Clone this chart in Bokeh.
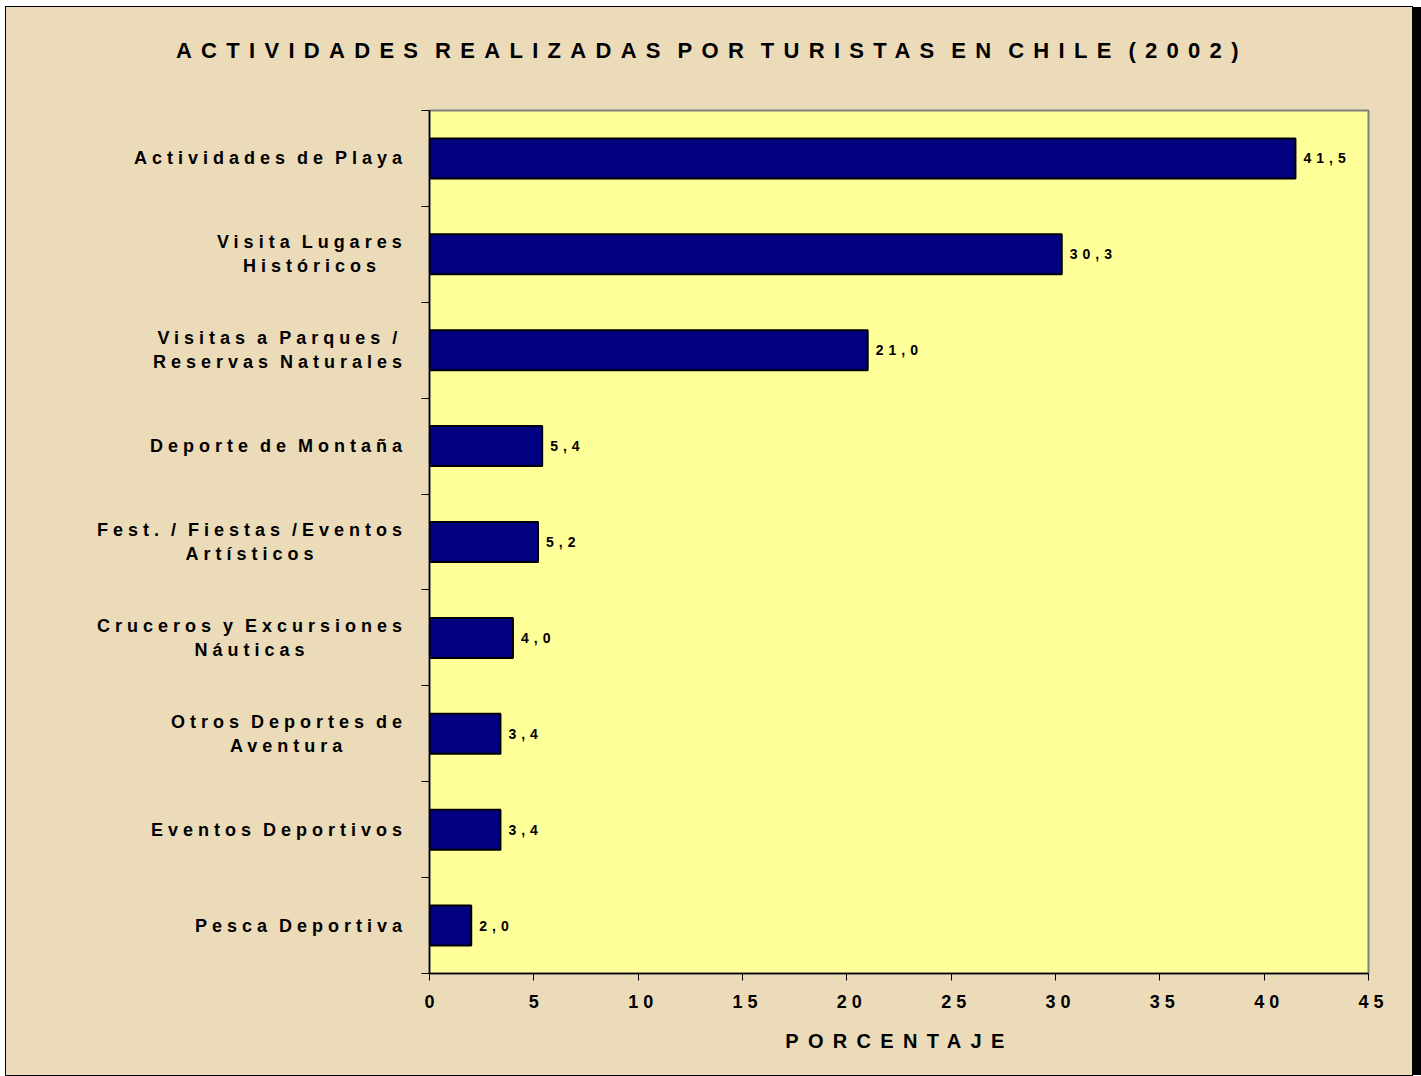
from bokeh.plotting import figure
from bokeh.models import (Range1d, FixedTicker, LabelSet, Label, ColumnDataSource,
                          InlineStyleSheet, CustomJSTickFormatter, LinearAxis)
from bokeh.layouts import column, row
from bokeh.core.properties import value
from bokeh.embed import file_html
from bokeh.resources import INLINE

# ---------------- data ----------------
title_text = "ACTIVIDADES REALIZADAS POR TURISTAS EN CHILE (2002)"
x_axis_title = "PORCENTAJE"
categories = [
    "Actividades de Playa",
    "Visita Lugares\nHistóricos",
    "Visitas a Parques /\nReservas Naturales",
    "Deporte de Montaña",
    "Fest. / Fiestas /Eventos\nArtísticos",
    "Cruceros y Excursiones\nNáuticas",
    "Otros Deportes de\nAventura",
    "Eventos Deportivos",
    "Pesca Deportiva",
]
values = [41.5, 30.3, 21.0, 5.4, 5.2, 4.0, 3.4, 3.4, 2.0]
value_labels = ["41,5", "30,3", "21,0", "5,4", "5,2", "4,0", "3,4", "3,4", "2,0"]
x_ticks = [0, 5, 10, 15, 20, 25, 30, 35, 40, 45]

# ---------------- style ----------------
FONT = "Liberation Sans"
PARCH = "#EBDBB9"
PLOT_BG = "#FFFF99"
BAR = "#000080"

LS_MAIN, WS_MAIN = 5.0, -3.0      # letter / word spacing inside the chart
LS_HEAD, WS_HEAD = 9.3, -7.7      # letter / word spacing of title and axis title

FS_CAT, FS_TICK, FS_VAL, FS_AXT, FS_TITLE = 18, 18, 14, 20, 22

# Arial/Liberation Sans Bold advance widths (1/1000 em)
ADV = {" ": 278, "(": 333, ")": 333, ",": 278, ".": 278, "/": 278,
       "A": 722, "B": 722, "C": 722, "D": 722, "E": 667, "F": 611, "G": 778, "H": 722,
       "I": 278, "J": 556, "K": 722, "L": 611, "M": 833, "N": 722, "O": 778, "P": 667,
       "Q": 778, "R": 722, "S": 667, "T": 611, "U": 722, "V": 667, "W": 944, "X": 667,
       "Y": 667, "Z": 611,
       "a": 556, "b": 611, "c": 556, "d": 611, "e": 556, "f": 333, "g": 611, "h": 611,
       "i": 278, "j": 278, "k": 556, "l": 278, "m": 889, "n": 611, "o": 611, "p": 611,
       "q": 611, "r": 389, "s": 556, "t": 333, "u": 611, "v": 556, "w": 778, "x": 556,
       "y": 556, "z": 500, "á": 556, "é": 556, "í": 278, "ó": 611, "ú": 611, "ñ": 611}


def text_w(s, fs, ls, ws):
    return sum(ADV.get(c, 556) for c in s) * fs / 1000.0 + (len(s) - 1) * ls + s.count(" ") * ws


def spacing_css(ls, ws):
    return InlineStyleSheet(css=":host { letter-spacing: %spx; word-spacing: %spx; }" % (ls, ws))


# page geometry (px)
PAGE_X0, PAGE_Y0 = 6, 7
W = 1406
TITLE_H = 96
FRAME_L, FRAME_R = 429, 1368
FRAME_T, FRAME_B = 110, 973
FOOT_T, PAGE_B = 1020, 1075
MAIN_H = FOOT_T - (PAGE_Y0 + TITLE_H)
FOOT_H = PAGE_B - FOOT_T
MT = FRAME_T - (PAGE_Y0 + TITLE_H)
MB = FOOT_T - FRAME_B
MR = PAGE_X0 + W - FRAME_R
AXIS_W = 14
LABEL_W = (FRAME_L - PAGE_X0) - AXIS_W


def text_figure(height, text, fs, cx, cy):
    f = figure(width=W, height=height, x_range=Range1d(PAGE_X0, PAGE_X0 + W - MR),
               y_range=Range1d(height, 0),
               output_backend="svg", toolbar_location=None, tools="",
               x_axis_location=None, y_axis_location=None,
               min_border_left=0, min_border_right=MR, min_border_top=0, min_border_bottom=0,
               background_fill_color=None, border_fill_color=PARCH, outline_line_color=None,
               stylesheets=[spacing_css(LS_HEAD, WS_HEAD)])
    f.grid.visible = False
    w = text_w(text, fs, LS_HEAD, WS_HEAD)
    f.add_layout(Label(x=cx - w / 2.0, y=cy, text=text, text_font=FONT,
                       text_font_size="%dpx" % fs, text_font_style="bold",
                       text_color="#000000", text_align="left", text_baseline="middle"))
    return f


n = len(categories)
y_rng = Range1d(n, 0)

# ---------------- title / footer figures ----------------
tf = text_figure(TITLE_H, title_text, FS_TITLE, 707.5, 50 - PAGE_Y0)
ff = text_figure(FOOT_H, x_axis_title, FS_AXT, 895.0, 1040 - FOOT_T)

# ---------------- category label figure ----------------
lf = figure(width=LABEL_W, height=MAIN_H, x_range=Range1d(-(FRAME_L - PAGE_X0), -AXIS_W),
            y_range=y_rng,
            output_backend="svg", toolbar_location=None, tools="",
            x_axis_location=None, y_axis_location=None,
            min_border_left=0, min_border_right=0, min_border_top=MT, min_border_bottom=MB,
            background_fill_color=None, border_fill_color=PARCH, outline_line_color=None,
            stylesheets=[spacing_css(LS_MAIN, WS_MAIN)])
lf.grid.visible = False

ypos = [i + 0.5 for i in range(n)]
RIGHT = -27.5           # right edge of the label block, px left of the axis
LINE_GAP = 12.0
rows = dict(x=[], y=[], t=[], yo=[])
for i, cat in enumerate(categories):
    lines = cat.split("\n")
    widths = [text_w(s, FS_CAT, LS_MAIN, WS_MAIN) for s in lines]
    centre = RIGHT - max(widths) / 2.0
    k = len(lines)
    for j, (s, w) in enumerate(zip(lines, widths)):
        rows["x"].append(centre - w / 2.0)
        rows["y"].append(ypos[i])
        rows["t"].append(s)
        rows["yo"].append((k - 1 - 2 * j) * LINE_GAP)
lf.add_layout(LabelSet(x="x", y="y", text="t", y_offset="yo",
                       source=ColumnDataSource(rows),
                       text_font=value(FONT), text_font_size="%dpx" % FS_CAT,
                       text_font_style="bold", text_color="#000000",
                       text_align="left", text_baseline="middle"))

# ---------------- main figure ----------------
p = figure(width=AXIS_W + (FRAME_R - FRAME_L) + MR, height=MAIN_H,
           x_range=Range1d(0, 45), y_range=y_rng,
           output_backend="svg", toolbar_location=None, tools="",
           x_axis_location=None, y_axis_location=None,
           min_border_left=AXIS_W, min_border_right=MR, min_border_top=MT, min_border_bottom=MB,
           background_fill_color=PLOT_BG, border_fill_color=PARCH,
           outline_line_color="#808080", outline_line_width=2,
           stylesheets=[spacing_css(LS_MAIN, WS_MAIN)])
p.grid.visible = False

src = ColumnDataSource(dict(y=ypos, v=values, lab=value_labels))
p.hbar(y="y", left=0, right="v", height=0.417, source=src,
       fill_color=BAR, line_color="#000000", line_width=2)

# x axis
xa = LinearAxis(ticker=FixedTicker(ticks=x_ticks, minor_ticks=[]))
xa.axis_line_color = "#000000"
xa.axis_line_width = 1.5
xa.major_tick_in = 0
xa.major_tick_out = 7
xa.major_tick_line_color = "#000000"
xa.minor_tick_out = 0
xa.major_label_standoff = 14
xa.major_label_text_font = FONT
xa.major_label_text_font_size = "%dpx" % FS_TICK
xa.major_label_text_font_style = "bold"
xa.major_label_text_color = "#000000"
p.add_layout(xa, "below")

# y axis: ticks at category boundaries, labels drawn in the label figure
ya = LinearAxis(ticker=FixedTicker(ticks=list(range(n + 1)), minor_ticks=[]),
                formatter=CustomJSTickFormatter(code="return ''"))
ya.axis_line_color = "#000000"
ya.axis_line_width = 1.5
ya.major_tick_in = 0
ya.major_tick_out = 8
ya.major_label_standoff = 0
ya.major_tick_line_color = "#000000"
ya.minor_tick_out = 0
p.add_layout(ya, "left")

# value labels
p.add_layout(LabelSet(x="v", y="y", text="lab", source=src, x_offset=8,
                      text_font=value(FONT), text_font_size="%dpx" % FS_VAL,
                      text_font_style="bold", text_color="#000000",
                      text_align="left", text_baseline="middle"))

layout = column(tf, row(lf, p, spacing=0), ff, spacing=0,
                styles={"margin-left": "%dpx" % PAGE_X0, "margin-top": "%dpx" % PAGE_Y0,
                        "background-color": PARCH,
                        "outline": "1px solid #000000",
                        "box-shadow": "9px 0px 0px 0px #000000"})

open("out.html", "w").write(file_html(layout, INLINE))
